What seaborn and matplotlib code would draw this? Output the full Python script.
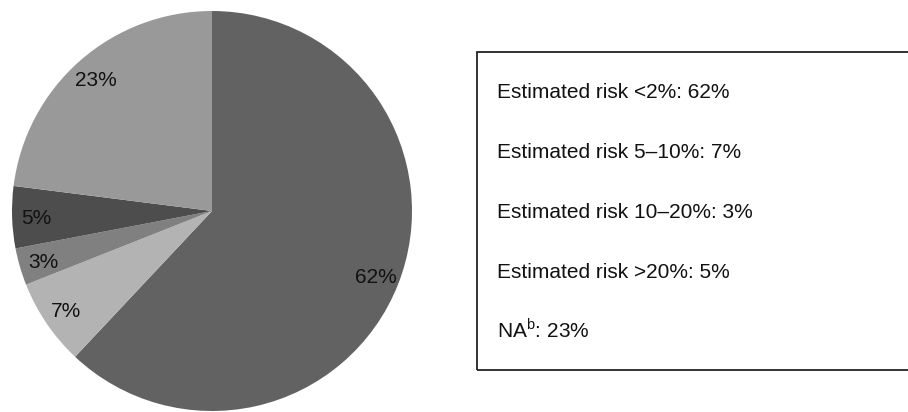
import matplotlib
matplotlib.use("Agg")
import matplotlib.pyplot as plt
import seaborn as sns
from matplotlib.patches import Rectangle

# slices, clockwise from 12 o'clock
shares = [62, 7, 3, 5, 23]
slice_colors = ["#626262", "#b3b3b3", "#808080", "#4d4d4d", "#999999"]

# legend box lines (top to bottom)
box_labels = ["Estimated risk <2%", "Estimated risk 5\u201310%", "Estimated risk 10\u201320%",
              "Estimated risk >20%", "NA$^{\\rm b}$"]
box_values = [62, 7, 3, 5, 23]

sns.set_theme(style="white")
plt.rcParams["font.family"] = ["Liberation Sans", "DejaVu Sans"]
plt.rcParams["mathtext.fontset"] = "custom"
plt.rcParams["mathtext.rm"] = "Liberation Sans"

fig = plt.figure(figsize=(9.08, 4.12), dpi=100)
ax = fig.add_axes([12 / 908, 1 / 412, 400 / 908, 400 / 412])
ax.pie(shares, colors=slice_colors, startangle=90, counterclock=False,
       autopct="%d%%", pctdistance=0.88,
       textprops={"fontsize": 15, "color": "#111111", "va": "center_baseline"},
       wedgeprops={"linewidth": 0})
ax.set_xlim(-1, 1)
ax.set_ylim(-1, 1)
ax.set_aspect("equal")

# outlined box on the right, running off the right edge
fig.patches.append(Rectangle((477 / 908, (412 - 370) / 412), 0.5, 318 / 412,
                             transform=fig.transFigure, fill=False,
                             edgecolor="#222222", linewidth=1.3))
for i, (lab, v) in enumerate(zip(box_labels, box_values)):
    y = 92 + 60 * i + 6
    fig.text(497 / 908, 1 - y / 412, f"{lab}: {v}%", fontsize=15,
             va="baseline", ha="left", color="#111111")

fig.savefig("out.png", dpi=100)
